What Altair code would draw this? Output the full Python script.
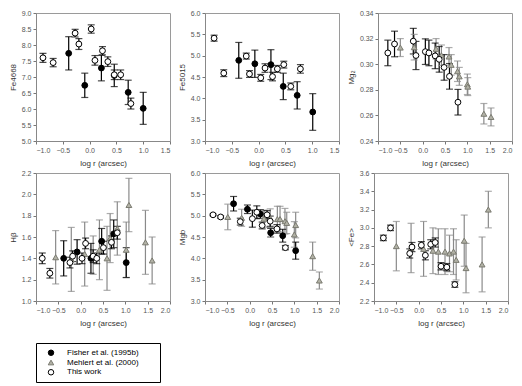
import altair as alt
import pandas as pd

SRC = ["Fisher et al. (1995b)", "Mehlert et al. (2000)", "This work"]

# rows: [log r, index value, error]
fe4668_fisher = [[-0.39, 7.74, 0.52], [-0.09, 6.74, 0.38], [0.22, 7.28, 0.40],
                 [0.46, 7.05, 0.35], [0.72, 6.52, 0.38], [1.00, 6.02, 0.50]]
fe4668_this = [[-0.87, 7.60, 0.14], [-0.68, 7.45, 0.13], [-0.27, 8.37, 0.12],
               [-0.20, 8.03, 0.17], [0.03, 8.50, 0.13], [0.10, 7.52, 0.15],
               [0.24, 7.82, 0.13], [0.34, 7.48, 0.15], [0.46, 7.07, 0.15],
               [0.58, 7.07, 0.15], [0.77, 6.17, 0.17]]

fe5015_fisher = [[-0.37, 4.89, 0.42], [-0.07, 4.81, 0.32], [0.23, 4.79, 0.35],
                 [0.46, 4.28, 0.31], [0.72, 4.07, 0.32], [1.01, 3.68, 0.43]]
fe5015_this = [[-0.83, 5.41, 0.07], [-0.65, 4.59, 0.08], [-0.23, 4.99, 0.07],
               [-0.17, 4.57, 0.08], [0.04, 4.48, 0.08], [0.12, 4.71, 0.10],
               [0.26, 4.51, 0.10], [0.35, 4.69, 0.08], [0.47, 4.79, 0.08],
               [0.60, 4.28, 0.08], [0.78, 4.69, 0.10]]

mg2_mehlert = [[-0.50, 0.3130, 0.007], [-0.19, 0.3133, 0.010], [0.30, 0.3120, 0.008],
               [0.42, 0.3070, 0.008], [0.59, 0.3060, 0.007], [0.64, 0.2995, 0.008],
               [0.78, 0.2945, 0.008], [0.82, 0.2905, 0.007], [1.00, 0.2843, 0.008],
               [1.01, 0.2825, 0.007], [1.37, 0.2613, 0.008], [1.53, 0.2588, 0.007]]
mg2_this = [[-0.78, 0.3088, 0.010], [-0.63, 0.3158, 0.010], [-0.21, 0.3180, 0.010],
            [-0.15, 0.3068, 0.011], [0.06, 0.3098, 0.010], [0.14, 0.3088, 0.010],
            [0.28, 0.3065, 0.010], [0.37, 0.3038, 0.010], [0.48, 0.2975, 0.010],
            [0.60, 0.2905, 0.010], [0.79, 0.2703, 0.010]]

hb_fisher = [[-0.38, 1.40, 0.165], [-0.08, 1.46, 0.115], [0.23, 1.40, 0.14],
             [0.47, 1.56, 0.12], [0.74, 1.63, 0.13], [1.02, 1.36, 0.14]]
hb_mehlert = [[-0.56, 1.41, 0.25], [-0.21, 1.39, 0.30], [0.09, 1.44, 0.30],
              [0.28, 1.43, 0.18], [0.42, 1.48, 0.28], [0.59, 1.40, 0.30],
              [0.66, 1.59, 0.23], [0.82, 1.68, 0.25], [1.02, 1.48, 0.26],
              [1.08, 1.90, 0.25], [1.45, 1.55, 0.30], [1.60, 1.38, 0.22]]
hb_this = [[-0.86, 1.40, 0.05], [-0.69, 1.26, 0.045], [-0.24, 1.36, 0.05],
           [-0.18, 1.42, 0.05], [0.03, 1.40, 0.05], [0.11, 1.54, 0.05],
           [0.28, 1.42, 0.06], [0.36, 1.40, 0.05], [0.51, 1.50, 0.06],
           [0.69, 1.55, 0.06], [0.82, 1.64, 0.06]]

mgb_fisher = [[-0.36, 5.28, 0.17], [-0.05, 5.15, 0.10], [0.24, 5.04, 0.10],
              [0.47, 4.60, 0.10], [0.74, 4.53, 0.15], [1.03, 4.18, 0.20]]
mgb_mehlert = [[-0.49, 4.97, 0.30], [-0.18, 4.95, 0.20], [0.32, 4.93, 0.20],
               [0.46, 4.94, 0.22], [0.62, 4.92, 0.30], [0.68, 4.92, 0.30],
               [0.79, 4.87, 0.30], [0.83, 4.83, 0.25], [1.00, 4.56, 0.30],
               [1.03, 4.78, 0.30], [1.41, 4.05, 0.33], [1.56, 3.48, 0.20]]
mgb_this = [[-0.82, 5.02, 0.02], [-0.65, 4.97, 0.03], [-0.21, 4.86, 0.08],
            [0.06, 4.93, 0.20], [0.16, 5.08, 0.15], [0.28, 4.77, 0.08],
            [0.39, 5.02, 0.10], [0.46, 4.87, 0.12], [0.61, 4.69, 0.10],
            [0.80, 4.25, 0.05]]

fe_mehlert = [[-0.50, 2.80, 0.27], [-0.17, 2.78, 0.27], [0.11, 2.77, 0.30],
              [0.32, 2.75, 0.25], [0.44, 2.74, 0.25], [0.59, 2.74, 0.25],
              [0.69, 2.72, 0.20], [0.78, 2.74, 0.25], [0.84, 2.65, 0.22],
              [1.02, 2.86, 0.28], [1.06, 2.56, 0.27], [1.42, 2.60, 0.30],
              [1.56, 3.20, 0.20]]
fe_this = [[-0.79, 2.89, 0.03], [-0.63, 3.00, 0.03], [-0.20, 2.72, 0.05],
           [-0.15, 2.79, 0.05], [0.06, 2.81, 0.04], [0.15, 2.70, 0.05],
           [0.27, 2.82, 0.05], [0.37, 2.84, 0.05], [0.50, 2.58, 0.04],
           [0.63, 2.57, 0.04], [0.81, 2.38, 0.03]]

X_TITLE = "log r (arcsec)"
W, H = 134, 128
FONT = "Liberation Sans"

SHAPE_SCALE = alt.Scale(domain=SRC, range=["circle", "triangle-up", "circle"])
FILL_SCALE = alt.Scale(domain=SRC, range=["black", "#b2b2a6", "white"])
STROKE_SCALE = alt.Scale(domain=SRC, range=["black", "#7a7a70", "black"])
BAR_SCALE = alt.Scale(domain=SRC, range=["black", "#8a8a8a", "black"])


def frame(rows_by_src):
    recs = []
    # drawing order: Mehlert, Fisher, This work
    for src in [SRC[1], SRC[0], SRC[2]]:
        for x, y, e in rows_by_src.get(src, []):
            recs.append({"x": x, "y": y, "lo": y - e, "hi": y + e,
                         "src": src, "bar": src})
    return pd.DataFrame(recs)


def panel(rows_by_src, ytitle, ydom, yvals, yfmt, xdom, xvals):
    df = frame(rows_by_src)
    base = alt.Chart(df)
    xs = alt.Scale(domain=xdom, nice=False, zero=False)
    ys = alt.Scale(domain=ydom, nice=False, zero=False)
    xax = alt.Axis(title=X_TITLE, values=xvals, format=".1f", titlePadding=6, labelOverlap=False)
    yax = alt.Axis(title=ytitle, values=yvals, format=yfmt, titlePadding=4, labelOverlap=False)
    X = alt.X("x:Q", scale=xs, axis=xax)
    col = alt.Color("bar:N", scale=BAR_SCALE, legend=None)
    rules = base.mark_rule(strokeWidth=1.2).encode(
        x=X, y=alt.Y("lo:Q", scale=ys, axis=yax), y2="hi:Q", color=col)
    cap_lo = base.mark_tick(orient="horizontal", size=7, thickness=1.2).encode(
        x=X, y=alt.Y("lo:Q", scale=ys, axis=yax), color=col)
    cap_hi = base.mark_tick(orient="horizontal", size=7, thickness=1.2).encode(
        x=X, y=alt.Y("hi:Q", scale=ys, axis=yax), color=col)
    pts = base.mark_point(size=34, opacity=1, strokeWidth=1, filled=True).encode(
        x=X,
        y=alt.Y("y:Q", scale=ys, axis=yax),
        shape=alt.Shape("src:N", scale=SHAPE_SCALE, legend=None),
        fill=alt.Fill("src:N", scale=FILL_SCALE, legend=None),
        stroke=alt.Stroke("src:N", scale=STROKE_SCALE, legend=None),
    )
    return alt.layer(rules, cap_lo, cap_hi, pts).properties(width=W, height=H)


def steps(a, b, s, n):
    return [round(a + i * s, 4) for i in range(n)]


x15 = steps(-1.0, 1.5, 0.5, 6)
x20 = steps(-1.0, 2.0, 0.5, 7)

p1 = panel({SRC[0]: fe4668_fisher, SRC[2]: fe4668_this}, "Fe4668", [5, 9],
           steps(5.0, 9.0, 0.5, 9), ".1f", [-1.0, 1.5], x15)
p2 = panel({SRC[0]: fe5015_fisher, SRC[2]: fe5015_this}, "Fe5015", [3, 6],
           steps(3.0, 6.0, 0.5, 7), ".1f", [-1.0, 1.5], x15)
p3 = panel({SRC[1]: mg2_mehlert, SRC[2]: mg2_this}, "Mg\u2082", [0.24, 0.34],
           steps(0.24, 0.34, 0.02, 6), ".2f", [-1.0, 2.0], x20)
p4 = panel({SRC[0]: hb_fisher, SRC[1]: hb_mehlert, SRC[2]: hb_this}, "H\u03b2", [1.0, 2.2],
           steps(1.0, 2.2, 0.2, 7), ".1f", [-1.0, 2.0], x20)
p5 = panel({SRC[0]: mgb_fisher, SRC[1]: mgb_mehlert, SRC[2]: mgb_this}, "Mgb", [3.0, 6.0],
           steps(3.0, 6.0, 0.5, 7), ".1f", [-1.0, 2.0], x20)
p6 = panel({SRC[1]: fe_mehlert, SRC[2]: fe_this}, "<Fe>", [2.2, 3.6],
           steps(2.2, 3.6, 0.2, 8), ".1f", [-1.0, 2.0], x20)

# legend box built from the same source list and scales
legend_df = pd.DataFrame({"src": SRC})
lbase = alt.Chart(legend_df).encode(
    y=alt.Y("src:N", sort=SRC,
            scale=alt.Scale(type="point", padding=1.05),
            axis=alt.Axis(labels=False, ticks=False, domain=False, title=None,
                          minExtent=23, maxExtent=23)),
)
lsym = lbase.mark_point(size=30, opacity=1, strokeWidth=1, filled=True).encode(
    x=alt.value(15),
    shape=alt.Shape("src:N", scale=SHAPE_SCALE, legend=None),
    fill=alt.Fill("src:N", scale=FILL_SCALE, legend=None),
    stroke=alt.Stroke("src:N", scale=STROKE_SCALE, legend=None),
)
ltxt = lbase.mark_text(align="left", baseline="middle", font=FONT, fontSize=8,
                       color="black").encode(x=alt.value(31), text="src:N")
legend_box = alt.layer(lsym, ltxt).properties(
    width=124, height=39, view=alt.ViewBackground(stroke="black", strokeWidth=1)
)

row1 = alt.hconcat(p1, p2, p3, spacing=6)
row2 = alt.hconcat(p4, p5, p6, spacing=6)
grid = alt.vconcat(row1, row2, spacing=0)

chart = alt.vconcat(grid, legend_box, spacing=14).properties(
    padding={"left": 0, "top": 0, "right": 0, "bottom": 0}
).configure_view(
    stroke="#9a9a9a", strokeWidth=1
).configure_axis(
    labelFont=FONT, labelFontSize=7, labelColor="#555555",
    titleFont=FONT, titleFontSize=8, titleFontWeight="normal", titleColor="#333333",
    grid=False, domainColor="#888888", tickColor="#777777", tickSize=3,
    labelPadding=2, labelOverlap=False,
)

chart.save("out.html", embed_options={"renderer": "svg", "actions": False})
